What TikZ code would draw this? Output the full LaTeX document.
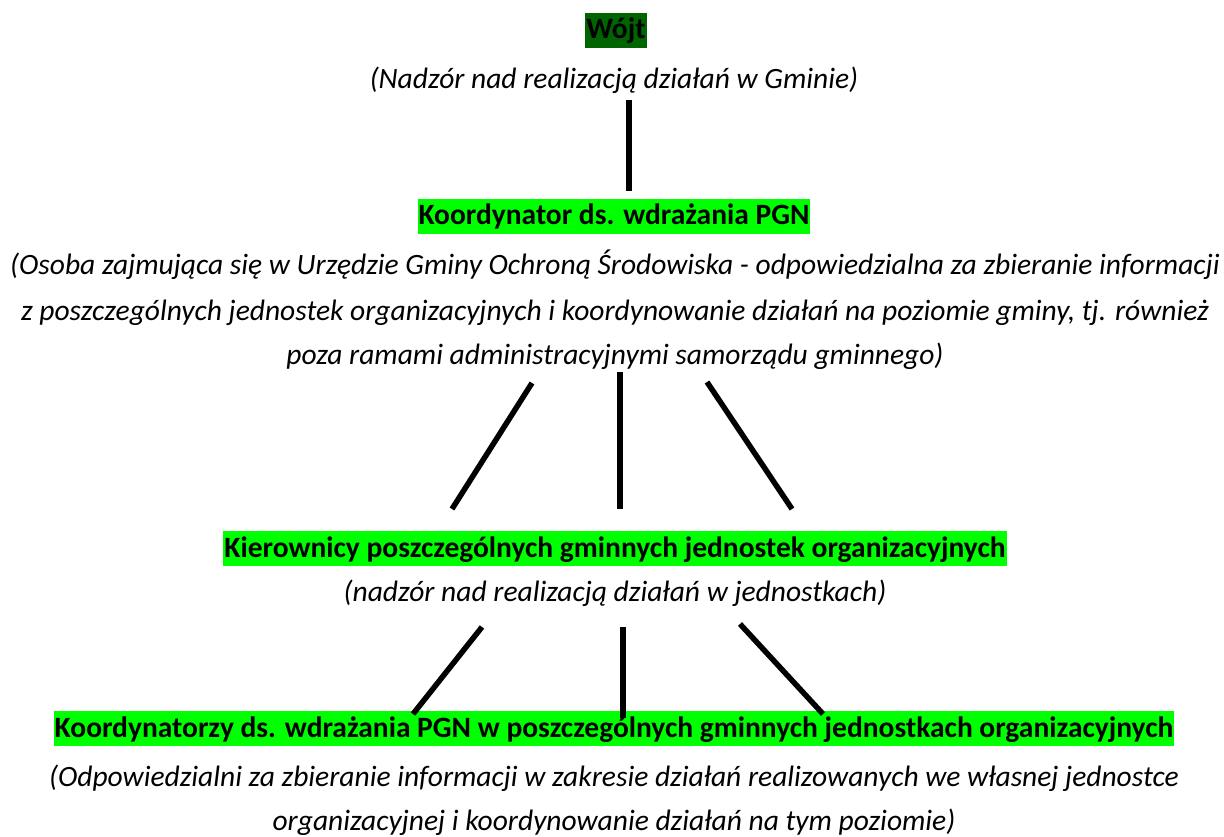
\documentclass[tikz,border=0pt]{standalone}
\usepackage{fontspec}
\setmainfont{Carlito}
\definecolor{dkgreen}{RGB}{0,100,0}
\definecolor{brgreen}{RGB}{0,255,0}
\begin{document}
\begin{tikzpicture}[x=1pt,y=-1pt,
  head/.style={anchor=base,inner xsep=1pt,inner ysep=0pt,text height=26pt,text depth=9pt,font=\fontsize{29.5}{35}\selectfont\bfseries},
  desc/.style={anchor=base,inner sep=0pt,font=\fontsize{29.5}{35}\selectfont\itshape},
  conn/.style={line width=5.5pt}]
\useasboundingbox (0,0) rectangle (1224,837);
\node[head,fill=dkgreen] (wojt) at (616,39) {Wójt};
\node[desc] (wojtd) at (614,89) {(Nadzór nad realizacją działań w Gminie)};
\node[head,fill=brgreen] (koord) at (614,225) {Koordynator ds. wdrażania PGN};
\node[desc] (kd1) at (615,275) {(Osoba zajmująca się w Urzędzie Gminy Ochroną Środowiska - odpowiedzialna za zbieranie informacji};
\node[desc] (kd2) at (615,320) {z poszczególnych jednostek organizacyjnych i koordynowanie działań na poziomie gminy, tj. również};
\node[desc] (kd3) at (615,364) {poza ramami administracyjnymi samorządu gminnego)};
\node[head,fill=brgreen] (kier) at (615,557) {Kierownicy poszczególnych gminnych jednostek organizacyjnych};
\node[desc] (kierd) at (615,601) {(nadzór nad realizacją działań w jednostkach)};
\node[head,fill=brgreen] (kj) at (614,737) {Koordynatorzy ds. wdrażania PGN w poszczególnych gminnych jednostkach organizacyjnych};
\node[desc] (kjd1) at (614,786) {(Odpowiedzialni za zbieranie informacji w zakresie działań realizowanych we własnej jednostce};
\node[desc] (kjd2) at (614,830) {organizacyjnej i koordynowanie działań na tym poziomie)};
% connector endpoints
\coordinate (a1) at (629,100); \coordinate (a2) at (629,191);
\coordinate (b1) at (532,383); \coordinate (b2) at (452,509);
\coordinate (c1) at (620,372); \coordinate (c2) at (620,509);
\coordinate (d1) at (707,382); \coordinate (d2) at (792,509);
\coordinate (e1) at (482,627); \coordinate (e2) at (413,714);
\coordinate (f1) at (623,627); \coordinate (f2) at (623,718);
\coordinate (g1) at (740,624); \coordinate (g2) at (823,714);
\draw[conn] (a1) -- (a2);
\draw[conn] (b1) -- (b2);
\draw[conn] (c1) -- (c2);
\draw[conn] (d1) -- (d2);
\draw[conn] (e1) -- (e2);
\draw[conn] (f1) -- (f2);
\draw[conn] (g1) -- (g2);
\end{tikzpicture}
\end{document}
